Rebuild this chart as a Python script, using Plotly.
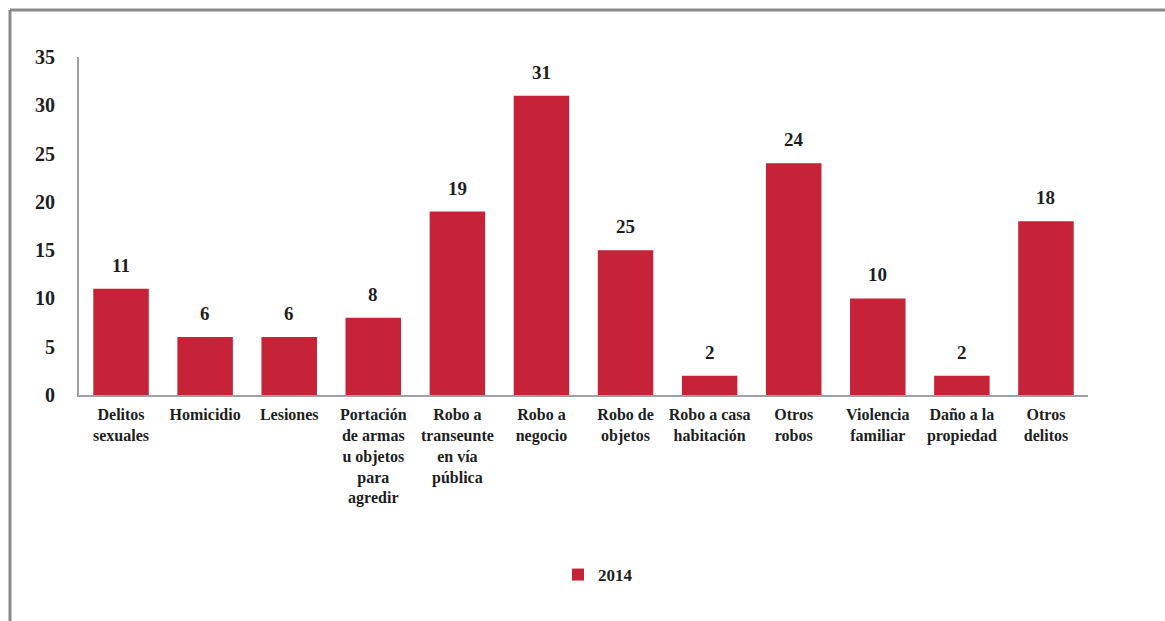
import plotly.graph_objects as go

categories = [
    "Delitos<br>sexuales", "Homicidio", "Lesiones",
    "Portación<br>de armas<br>u objetos<br>para<br>agredir",
    "Robo a<br>transeunte<br>en vía<br>pública",
    "Robo a<br>negocio", "Robo de<br>objetos", "Robo a casa<br>habitación",
    "Otros<br>robos", "Violencia<br>familiar", "Daño a la<br>propiedad", "Otros<br>delitos",
]
values_2014 = [11, 6, 6, 8, 19, 31, 15, 2, 24, 10, 2, 18]
labels_2014 = ["11", "6", "6", "8", "19", "31", "25", "2", "24", "10", "2", "18"]
y_ticks = [0, 5, 10, 15, 20, 25, 30, 35]

SERIF = "Liberation Serif, Times New Roman, serif"
RED = "#C62238"
INK = "#1E1E1E"

fig = go.Figure()
fig.add_trace(go.Bar(
    x=categories, y=values_2014, name="2014",
    marker=dict(color=RED, line=dict(width=0)),
))

for cat, val, lab in zip(categories, values_2014, labels_2014):
    fig.add_annotation(
        x=cat, y=val, text=lab, showarrow=False, yanchor="bottom", yshift=11,
        font=dict(family=SERIF, size=19, color=INK, weight="bold"),
    )

W, H = 1165, 621
L, R, T, B = 79, 77, 57, 226
pw, ph = W - L - R, H - T - B

def px(x):
    return (x - L) / pw

def py(y):
    return (H - B - y) / ph

fig.update_layout(
    width=W, height=H,
    margin=dict(l=L, r=R, t=T, b=B),
    paper_bgcolor="white", plot_bgcolor="white",
    bargap=0.34,
    font=dict(family=SERIF, color=INK),
    showlegend=True,
    legend=dict(orientation="h", x=px(598), y=py(575), xanchor="center", yanchor="middle",
                font=dict(family=SERIF, size=17, color=INK, weight="bold"),
                itemwidth=30),
    xaxis=dict(
        showline=True, linecolor="#A0A0A0", linewidth=2,
        tickfont=dict(family=SERIF, size=16, color=INK, weight="bold"),
        tickangle=0, ticks="", showgrid=False, ticklabelstandoff=4,
    ),
    yaxis=dict(
        range=[0, 35], tickvals=y_ticks, showline=True, linecolor="#A0A0A0", linewidth=2,
        tickfont=dict(family=SERIF, size=20, color=INK, weight="bold"),
        ticks="", showgrid=False, zeroline=False, ticklabelstandoff=18,
    ),
    shapes=[
        dict(type="line", xref="paper", yref="paper", x0=px(10), x1=px(1165), y0=py(10), y1=py(10),
             line=dict(color="#8A8A8A", width=3)),
        dict(type="line", xref="paper", yref="paper", x0=px(10), x1=px(10), y0=py(10), y1=py(621),
             line=dict(color="#8A8A8A", width=3)),
    ],
)

fig.write_html("out.html")
